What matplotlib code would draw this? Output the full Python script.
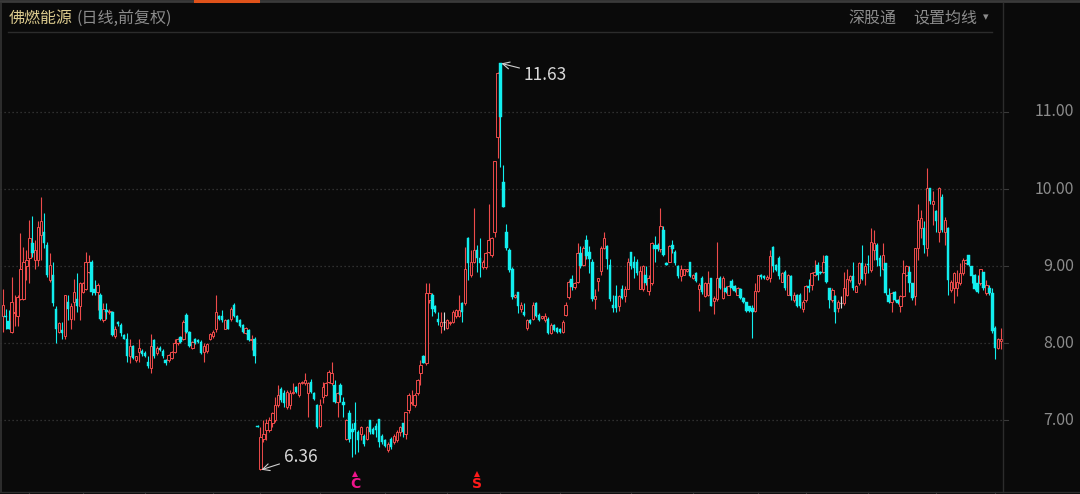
import numpy as np
import matplotlib
matplotlib.use("Agg")
import matplotlib.pyplot as plt
import matplotlib.transforms as mtransforms

plt.rcParams['font.family'] = ['Noto Sans CJK SC', 'DejaVu Sans']

# daily candles, 佛燃能源 (前复权)
opens = [8.35, 8.35, 8.29, 8.15, 8.39, 8.35, 8.58, 8.58, 9.00, 9.10,
         9.30, 9.08, 9.08, 9.40, 9.45, 9.27, 8.82, 8.89, 8.45, 8.15,
         8.17, 8.09, 8.54, 8.32, 8.54, 8.58, 8.48, 8.67, 8.71, 8.93,
         9.06, 8.71, 8.67, 8.63, 8.30, 8.43, 8.40, 8.41, 8.09, 8.27,
         8.24, 8.11, 8.06, 7.83, 7.96, 7.78, 7.89, 7.90, 7.88, 7.76,
         7.68, 8.04, 7.87, 7.94, 7.90, 7.78, 7.78, 7.81, 7.89, 8.00,
         8.08, 8.06, 8.37, 8.15, 7.94, 8.06, 8.04, 8.02, 7.89, 7.90,
         8.06, 8.09, 8.19, 8.35, 8.36, 8.19, 8.30, 8.31, 8.50, 8.35,
         8.30, 8.24, 8.13, 8.17, 8.04, 8.06,
         6.93, 6.37, 6.76, 6.87, 6.87, 6.96, 7.00, 7.20, 7.41, 7.35,
         7.17, 7.20, 7.35, 7.43, 7.33, 7.48, 7.48, 7.35, 7.50, 7.35,
         7.20, 6.93, 7.30, 7.33, 7.50, 7.48, 7.46, 7.24, 7.46, 7.24,
         6.76, 7.09, 6.89, 6.96, 6.85, 6.83, 6.80, 6.76, 7.00, 6.89,
         6.93, 7.02, 6.80, 6.74, 6.61, 6.76, 6.72, 6.74, 6.85, 6.96,
         6.83, 7.13, 7.22, 7.20, 7.35, 7.61, 7.83, 7.74,
         8.56, 8.63, 8.48, 8.32, 8.22, 8.27, 8.20, 8.26, 8.28, 8.35,
         8.35, 8.52, 8.52, 9.36, 8.89, 9.06, 9.21, 9.10, 8.99, 8.99,
         9.19, 9.14, 9.45, 10.68, 11.63, 10.09, 9.45, 9.21, 8.97, 8.60,
         8.67, 8.45, 8.41, 8.20, 8.30, 8.32, 8.52, 8.37, 8.33, 8.30,
         8.32, 8.13, 8.24, 8.20, 8.19, 8.15, 8.37, 8.60, 8.84, 8.73,
         8.80,
         9.17, 9.02, 9.34, 9.19, 9.06, 8.57, 8.81, 8.94, 9.24, 9.26,
         9.02, 8.50, 8.61, 8.48, 8.70, 8.61, 8.70, 9.19, 9.06, 9.06,
         8.70, 8.70, 8.89, 8.68, 8.78, 9.28, 9.28, 9.22, 9.47, 9.04,
         9.06, 9.28, 9.19, 9.00, 8.87, 8.89, 8.94, 9.05, 8.85, 8.91,
         8.70, 8.85, 8.61, 8.63, 8.85, 8.55, 8.57, 8.85, 8.59, 8.72,
         8.63, 8.81, 8.74, 8.63, 8.70, 8.59, 8.53, 8.48, 8.46, 8.42,
         8.68,
         8.88, 8.87, 8.84, 8.85, 9.25, 9.02, 9.10, 8.80, 8.93, 8.63,
         8.87, 8.56, 8.63, 8.63, 8.44, 8.56, 8.74, 8.76, 8.89, 9.02,
         8.93, 8.93, 9.13, 8.72, 8.56, 8.61, 8.46, 8.52, 8.52, 8.63,
         8.82, 8.87, 8.67, 8.78, 9.04, 8.91, 9.03, 8.95, 9.21, 9.28,
         9.10, 8.97, 9.04, 8.63, 8.54, 8.67, 8.56, 8.48, 8.61, 8.89,
         8.93, 8.78, 8.61, 9.23, 9.49, 9.49, 9.23, 10.01, 9.81, 9.71,
         9.45, 9.90, 9.45, 9.49, 8.69, 8.72, 8.72, 8.78, 8.91, 9.04,
         9.15, 9.00, 8.89, 8.78, 8.78, 8.93, 8.65, 8.72, 8.65, 8.20,
         7.94, 8.03]
highs = [8.70, 8.45, 8.43, 8.86, 8.63, 8.63, 9.43, 9.25, 9.21, 9.60,
         9.65, 9.34, 9.58, 9.90, 9.69, 9.32, 9.17, 9.06, 8.48, 8.28,
         8.28, 8.63, 8.63, 8.52, 8.84, 8.91, 8.80, 8.80, 9.19, 9.14,
         9.08, 8.82, 8.78, 8.65, 8.52, 8.52, 8.44, 8.42, 8.22, 8.29,
         8.26, 8.12, 8.13, 8.06, 7.98, 7.84, 8.06, 7.92, 7.90, 7.83,
         8.12, 8.06, 7.96, 7.96, 7.92, 7.80, 7.86, 7.90, 8.06, 8.07,
         8.10, 8.30, 8.39, 8.16, 8.03, 8.07, 8.06, 8.04, 8.00, 8.00,
         8.13, 8.17, 8.63, 8.37, 8.43, 8.31, 8.32, 8.47, 8.52, 8.37,
         8.31, 8.25, 8.21, 8.19, 8.11, 8.08,
         6.94, 6.91, 7.00, 7.02, 7.04, 7.11, 7.30, 7.46, 7.43, 7.39,
         7.39, 7.39, 7.48, 7.45, 7.50, 7.51, 7.61, 7.50, 7.54, 7.37,
         7.21, 7.28, 7.50, 7.50, 7.65, 7.76, 7.52, 7.37, 7.48, 7.30,
         7.02, 7.13, 6.96, 7.24, 6.87, 6.93, 6.83, 6.93, 7.00, 6.91,
         6.96, 7.02, 6.82, 6.76, 6.72, 6.78, 6.83, 6.87, 6.93, 6.96,
         7.11, 7.35, 7.39, 7.35, 7.54, 7.78, 7.85, 8.78,
         8.78, 8.65, 8.50, 8.41, 8.41, 8.41, 8.32, 8.29, 8.43, 8.45,
         8.63, 8.54, 9.25, 9.38, 9.21, 9.75, 9.27, 9.36, 9.08, 9.19,
         9.81, 9.38, 10.37, 11.52, 11.63, 10.31, 9.55, 9.23, 8.99, 8.64,
         8.67, 8.54, 8.52, 8.32, 8.32, 8.54, 8.54, 8.39, 8.36, 8.39,
         8.34, 8.26, 8.25, 8.21, 8.20, 8.30, 8.54, 8.82, 8.89, 8.80,
         9.30,
         9.26, 9.26, 9.41, 9.26, 9.09, 8.70, 8.85, 9.26, 9.45, 9.28,
         9.09, 8.63, 8.76, 8.63, 8.76, 8.74, 9.11, 9.19, 9.13, 9.09,
         9.00, 9.02, 9.00, 8.89, 9.32, 9.39, 9.30, 9.75, 9.52, 9.05,
         9.28, 9.34, 9.21, 9.02, 9.02, 8.97, 8.97, 9.06, 8.90, 8.93,
         8.78, 8.87, 8.79, 8.94, 8.85, 8.61, 9.32, 8.87, 8.87, 8.74,
         8.75, 8.83, 8.76, 8.73, 8.72, 8.60, 8.54, 8.49, 8.50, 8.78,
         8.89,
         8.90, 8.88, 8.88, 9.21, 9.26, 9.03, 9.13, 8.92, 8.95, 8.90,
         8.89, 8.67, 8.64, 8.65, 8.56, 8.76, 8.84, 8.93, 9.08, 9.06,
         8.94, 9.15, 9.15, 8.72, 8.72, 8.63, 8.56, 8.61, 8.93, 8.97,
         8.89, 9.06, 8.75, 9.06, 9.28, 9.04, 9.15, 9.49, 9.47, 9.30,
         9.15, 9.30, 9.04, 8.72, 8.67, 8.68, 8.57, 8.63, 9.08, 9.02,
         9.00, 8.78, 9.23, 9.81, 9.73, 9.58, 10.27, 10.01, 9.97, 9.73,
         10.03, 9.94, 9.64, 9.51, 8.82, 8.93, 8.95, 9.04, 9.10, 9.09,
         9.15, 9.00, 8.90, 8.89, 8.97, 8.93, 8.82, 8.76, 8.72, 8.22,
         8.07, 8.20]
lows = [8.15, 8.19, 8.18, 8.13, 8.22, 8.22, 8.56, 8.56, 8.82, 8.78,
        9.12, 8.97, 9.00, 9.08, 9.23, 8.86, 8.80, 8.48, 8.00, 8.13,
        8.06, 8.06, 8.30, 8.19, 8.30, 8.41, 8.30, 8.65, 8.69, 8.91,
        8.63, 8.63, 8.43, 8.30, 8.28, 8.32, 8.38, 8.09, 8.07, 8.23,
        8.09, 8.05, 7.76, 7.74, 7.79, 7.76, 7.76, 7.84, 7.82, 7.68,
        7.61, 7.81, 7.85, 7.90, 7.81, 7.72, 7.76, 7.79, 7.87, 7.98,
        8.00, 8.04, 8.13, 7.95, 7.92, 7.99, 8.00, 7.86, 7.76, 7.88,
        8.04, 8.07, 8.15, 8.30, 8.28, 8.18, 8.18, 8.29, 8.34, 8.27,
        8.21, 8.14, 8.12, 8.03, 7.91, 7.74,
        6.91, 6.36, 6.72, 6.74, 6.85, 6.91, 6.98, 7.17, 7.24, 7.17,
        7.15, 7.15, 7.34, 7.36, 7.30, 7.47, 7.46, 7.04, 7.35, 7.27,
        6.90, 6.91, 7.22, 7.31, 7.48, 7.46, 7.22, 7.04, 7.24, 7.04,
        6.74, 6.72, 6.52, 6.56, 6.59, 6.74, 6.67, 6.74, 6.83, 6.82,
        6.78, 6.66, 6.70, 6.66, 6.59, 6.63, 6.70, 6.72, 6.80, 6.78,
        6.76, 7.09, 7.20, 7.17, 7.33, 7.46, 7.74, 7.72,
        8.52, 8.35, 8.39, 8.24, 8.13, 8.17, 8.18, 8.24, 8.26, 8.33,
        8.34, 8.28, 8.50, 8.82, 8.86, 9.04, 8.93, 8.86, 8.97, 8.97,
        9.17, 9.12, 9.38, 10.40, 10.29, 9.77, 9.21, 8.93, 8.58, 8.59,
        8.39, 8.41, 8.35, 8.17, 8.25, 8.30, 8.34, 8.29, 8.31, 8.28,
        8.12, 8.12, 8.16, 8.14, 8.14, 8.13, 8.35, 8.58, 8.69, 8.71,
        8.78,
        8.98, 9.00, 9.09, 8.91, 8.55, 8.44, 8.68, 8.89, 9.22, 8.96,
        8.55, 8.40, 8.40, 8.42, 8.57, 8.53, 8.70, 8.96, 8.85, 8.89,
        8.70, 8.68, 8.76, 8.63, 8.76, 9.06, 9.20, 9.19, 9.13, 9.01,
        9.06, 9.17, 9.02, 8.85, 8.81, 8.88, 8.92, 8.86, 8.84, 8.80,
        8.42, 8.64, 8.60, 8.61, 8.48, 8.38, 8.55, 8.71, 8.57, 8.65,
        8.62, 8.71, 8.67, 8.62, 8.58, 8.52, 8.41, 8.41, 8.07, 8.40,
        8.66,
        8.84, 8.84, 8.82, 8.80, 8.93, 8.94, 8.84, 8.79, 8.69, 8.62,
        8.56, 8.54, 8.47, 8.46, 8.41, 8.54, 8.67, 8.69, 8.87, 8.82,
        8.90, 8.91, 8.78, 8.46, 8.54, 8.26, 8.41, 8.46, 8.50, 8.61,
        8.80, 8.69, 8.66, 8.76, 8.82, 8.76, 8.91, 8.93, 9.08, 9.00,
        8.87, 8.95, 8.63, 8.52, 8.41, 8.55, 8.51, 8.41, 8.60, 8.87,
        8.67, 8.56, 8.50, 9.08, 9.36, 9.17, 9.13, 9.81, 9.53, 9.45,
        9.32, 9.45, 9.28, 8.63, 8.67, 8.52, 8.61, 8.76, 8.89, 9.03,
        9.00, 8.78, 8.69, 8.65, 8.76, 8.69, 8.63, 8.63, 8.13, 7.79,
        7.92, 7.92]
closes = [8.50, 8.34, 8.19, 8.54, 8.41, 8.60, 8.97, 9.06, 9.08, 9.36,
          9.17, 9.21, 9.51, 9.58, 9.30, 8.89, 9.02, 8.52, 8.19, 8.26,
          8.14, 8.63, 8.45, 8.48, 8.67, 8.48, 8.78, 8.78, 9.06, 9.06,
          8.67, 8.65, 8.76, 8.32, 8.45, 8.41, 8.42, 8.11, 8.19, 8.25,
          8.13, 8.06, 7.83, 7.96, 7.81, 7.83, 7.94, 7.86, 7.83, 7.71,
          7.96, 7.83, 7.94, 7.91, 7.83, 7.74, 7.85, 7.89, 8.00, 8.06,
          8.02, 8.28, 8.15, 7.96, 8.02, 8.00, 8.02, 7.88, 7.96, 7.99,
          8.12, 8.15, 8.40, 8.31, 8.30, 8.30, 8.19, 8.45, 8.35, 8.28,
          8.22, 8.15, 8.20, 8.04, 8.05, 7.83,
          6.92, 6.78, 6.83, 6.96, 7.00, 7.09, 7.20, 7.33, 7.26, 7.22,
          7.37, 7.36, 7.37, 7.37, 7.48, 7.50, 7.52, 7.48, 7.37, 7.28,
          6.91, 7.20, 7.43, 7.48, 7.63, 7.61, 7.24, 7.35, 7.33, 7.20,
          7.00, 6.76, 6.85, 6.87, 6.74, 6.91, 6.70, 6.91, 6.85, 6.83,
          6.87, 6.72, 6.72, 6.67, 6.70, 6.65, 6.80, 6.85, 6.91, 6.85,
          7.11, 7.33, 7.24, 7.33, 7.52, 7.72, 7.74, 8.65,
          8.65, 8.45, 8.41, 8.28, 8.28, 8.27, 8.30, 8.28, 8.41, 8.43,
          8.43, 8.41, 8.97, 9.04, 9.06, 9.21, 9.10, 9.04, 9.06, 9.17,
          9.34, 9.36, 10.37, 11.50, 10.94, 9.77, 9.23, 8.95, 8.60, 8.63,
          8.48, 8.50, 8.37, 8.30, 8.26, 8.50, 8.35, 8.30, 8.35, 8.35,
          8.13, 8.24, 8.17, 8.15, 8.15, 8.28, 8.50, 8.80, 8.73, 8.78,
          9.17,
          9.00, 9.24, 9.13, 9.09, 8.57, 8.61, 8.85, 9.24, 9.37, 9.09,
          8.57, 8.46, 8.46, 8.61, 8.59, 8.70, 9.06, 9.00, 8.98, 8.91,
          8.94, 9.00, 8.78, 8.85, 9.30, 9.22, 9.22, 9.52, 9.15, 9.02,
          9.26, 9.22, 9.04, 8.87, 8.96, 8.96, 8.96, 8.87, 8.89, 8.81,
          8.76, 8.66, 8.78, 8.78, 8.48, 8.59, 8.85, 8.72, 8.85, 8.66,
          8.74, 8.72, 8.68, 8.72, 8.59, 8.53, 8.42, 8.42, 8.40, 8.68,
          8.89,
          8.86, 8.85, 8.86, 9.13, 9.00, 8.95, 8.87, 8.91, 8.72, 8.89,
          8.61, 8.63, 8.48, 8.48, 8.54, 8.74, 8.72, 8.91, 8.93, 8.89,
          8.91, 9.06, 8.80, 8.56, 8.69, 8.41, 8.54, 8.52, 8.72, 8.84,
          8.87, 8.72, 8.74, 9.04, 8.84, 9.00, 9.01, 9.32, 9.30, 9.08,
          9.00, 9.15, 8.65, 8.54, 8.65, 8.56, 8.52, 8.61, 8.91, 9.00,
          8.78, 8.59, 9.23, 9.60, 9.62, 9.28, 10.01, 9.84, 9.84, 9.58,
          10.01, 9.47, 9.60, 8.82, 8.80, 8.91, 8.80, 8.91, 9.08, 9.08,
          9.02, 8.87, 8.70, 8.67, 8.97, 8.72, 8.76, 8.65, 8.16, 7.94,
          8.05, 8.05]

# candle index of each month boundary tick on the bottom strip
month_ticks = [9, 27, 48, 71, 87, 107, 129, 150, 168, 188, 212, 233,
               255, 271, 292, 315, 335]
# signal marks under the candles
signals = [(119, 'C', '#f0148c'), (160, 'S', '#ff1a1a')]
price_ticks = [7, 8, 9, 10, 11]

o = np.array(opens)
h = np.array(highs)
l = np.array(lows)
c = np.array(closes)
n = len(o)
idx = np.arange(n)
h = np.maximum(h, np.maximum(o, c))
l = np.minimum(l, np.minimum(o, c))

W, H = 1080, 494
bg = '#0a0a0a'
red = '#ee4b4b'
cyan = '#12eeee'
grey_txt = '#8c8c8c'
line_c = '#2c2c2c'

fig = plt.figure(figsize=(W / 100, H / 100), dpi=100, facecolor=bg)
ax = fig.add_axes([0, 0, 1, 1])
ax.set_facecolor(bg)
ax.axis('off')

# pixel mapping: candle i at x = 2.7 + 2.963 i, price 11 at y=112, 77.1 px per 1.00
step = 2.963
ax.set_xlim(-2.7 / step, (W - 2.7) / step)
ax.set_ylim(11 - (H - 112) / 77.1, 11 + 112 / 77.1)
x_sep = (1003 - 2.7) / step

# dotted grid lines
ty = mtransforms.blended_transform_factory(fig.transFigure, ax.transData)
for p in price_ticks:
    ax.plot([ax.get_xlim()[0], x_sep], [p, p], color='#3c3c3c', lw=0.9,
            ls=(0, (1, 2.2)), zorder=1)
    ax.plot([x_sep, x_sep + 5 / step], [p, p], color='#3a3a3a', lw=0.8, zorder=1)
    ax.text(1074 / W, p, '%.2f' % p, transform=ty,
            ha='right', va='center', color=grey_txt, fontsize=11.5)

up = c > o
down = c < o
flat = c == o
cols = np.where(up, red, np.where(down, cyan, '#dddddd'))

ax.vlines(idx, l, h, colors=cols, lw=0.8, zorder=2)
bw = 0.8
body_lo = np.minimum(o, c)
body_h = np.maximum(np.abs(c - o), 0.008)
ax.bar(idx[up], body_h[up], bottom=body_lo[up], width=bw,
       facecolor=bg, edgecolor=red, linewidth=0.7, zorder=3)
ax.bar(idx[down], body_h[down], bottom=body_lo[down], width=bw,
       facecolor=cyan, edgecolor=cyan, linewidth=0.3, zorder=3)
ax.hlines(c[flat], idx[flat] - bw / 2, idx[flat] + bw / 2, colors='#dddddd', lw=0.9, zorder=3)

# high / low labels
hi = int(np.argmax(h))
lo = int(np.argmin(l))
ax.annotate('%.2f' % h[hi], xy=(hi + 0.3, h[hi]), xytext=(16, -8), textcoords='offset points',
            ha='left', va='center', color='#d8d8d8', fontsize=12.5,
            arrowprops=dict(arrowstyle='->', color='#d0d0d0', lw=0.8, shrinkA=1, shrinkB=0))
ax.annotate('%.2f' % l[lo], xy=(lo + 0.3, l[lo]), xytext=(16, 9), textcoords='offset points',
            ha='left', va='center', color='#d8d8d8', fontsize=12.5,
            arrowprops=dict(arrowstyle='->', color='#d0d0d0', lw=0.8, shrinkA=1, shrinkB=0))

# signal letters
tb = mtransforms.blended_transform_factory(ax.transData, fig.transFigure)
for i, s, col in signals:
    ax.text(i, 1 - 484 / H, s, transform=tb, ha='center', va='center', color=col,
            fontsize=10, fontweight='bold', family='DejaVu Sans')
    ax.plot([i], [1 - 474 / H], transform=tb, marker='^', ms=4, color=col, mew=0)

# frame lines
fl = fig.transFigure
fig.add_artist(plt.Line2D([0, 1], [1 - 1 / H, 1 - 1 / H], transform=fl, color='#3a3a3a', lw=2))
fig.add_artist(plt.Line2D([195 / W, 258 / W], [1 - 1 / H, 1 - 1 / H], transform=fl, color='#e0521a', lw=2.2))
fig.add_artist(plt.Line2D([8 / W, 992 / W], [1 - 32.5 / H, 1 - 32.5 / H], transform=fl, color=line_c, lw=1))
fig.add_artist(plt.Line2D([1003 / W, 1003 / W], [1 - 3 / H, 1 - 491.5 / H], transform=fl, color=line_c, lw=1))
fig.add_artist(plt.Line2D([0.6 / W, 0.6 / W], [1 - 3 / H, 1 - 491.5 / H], transform=fl, color='#333333', lw=1.2))
fig.add_artist(plt.Line2D([0, 1], [1 - 491.5 / H, 1 - 491.5 / H], transform=fl, color=line_c, lw=1))
for t in month_ticks:
    ax.plot([t, t], [1 - 491.5 / H, 0], transform=tb, color='#3a3a3a', lw=0.8)

# header texts
fig.text(9 / W, 1 - 18 / H, '佛燃能源', color='#dccb8e', fontsize=11.5, va='center', ha='left')
fig.text(77 / W, 1 - 18 / H, '(日线,前复权)', color=grey_txt, fontsize=11.5, va='center', ha='left')
fig.text(848 / W, 1 - 18 / H, '深股通', color=grey_txt, fontsize=11.5, va='center', ha='left')
fig.text(913 / W, 1 - 18 / H, '设置均线', color=grey_txt, fontsize=11.5, va='center', ha='left')
fig.text(983 / W, 1 - 17 / H, '▾', color=grey_txt, fontsize=8, va='center', ha='left', family='DejaVu Sans')

fig.savefig('out.png', dpi=100, facecolor=bg)
